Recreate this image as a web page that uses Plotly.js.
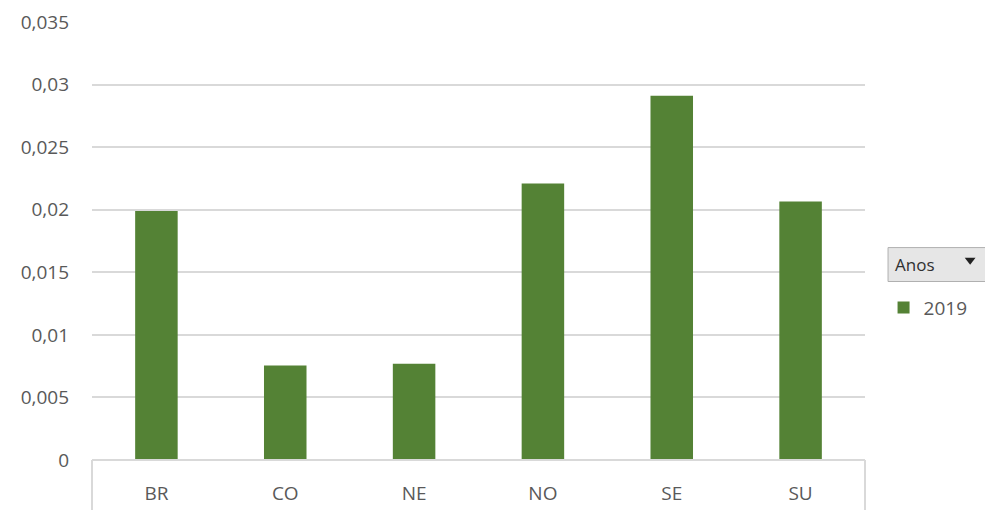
<!DOCTYPE html>
<html>
<head>
<meta charset="utf-8">
<script src="https://cdn.plot.ly/plotly-3.0.1.min.js"></script>
<style>html,body{margin:0;padding:0;background:#fff;}#chart{width:985px;height:510px;}</style>
</head>
<body>
<div id="chart"></div>
<script>
const categories = ["BR", "CO", "NE", "NO", "SE", "SU"];
const values2019 = [0.0199, 0.00755, 0.0077, 0.0221, 0.0291, 0.02065];
const seriesName = "2019";
const filterLabel = "Anos";
const yTicks = [0, 0.005, 0.01, 0.015, 0.02, 0.025, 0.03, 0.035];
const yTickText = ["0", "0,005", "0,01", "0,015", "0,02", "0,025", "0,03", "0,035"];

const fontFam = "'Open Sans', 'DejaVu Sans', sans-serif";
const grid = "#d9d9d9";
const txt = "#595959";

const trace = {
  type: "bar",
  x: categories,
  y: values2019,
  name: seriesName,
  marker: {color: "#548235", line: {width: 0}},
  showlegend: true
};

const layout = {
  width: 985, height: 510,
  margin: {l: 92, r: 120, t: 22, b: 50, pad: 0},
  paper_bgcolor: "#ffffff",
  plot_bgcolor: "#ffffff",
  bargap: 0.67,
  font: {family: fontFam, color: txt, size: 19},
  xaxis: {
    showgrid: false, zeroline: false, showline: false,
    ticks: "", tickfont: {size: 19, color: txt, family: fontFam},
    ticklabelstandoff: 20, fixedrange: true
  },
  yaxis: {
    range: [0, 0.035],
    tickvals: yTicks, ticktext: yTickText,
    showgrid: true, gridcolor: grid, gridwidth: 2,
    zeroline: false, showline: false, ticks: "",
    tickfont: {size: 19, color: txt, family: fontFam},
    ticklabelstandoff: 22, fixedrange: true
  },
  showlegend: true,
  legend: {
    x: 1.024, xanchor: "left", xref: "paper",
    y: 0.348, yanchor: "middle",
    font: {size: 19, color: txt, family: fontFam},
    itemwidth: 30, bgcolor: "rgba(0,0,0,0)"
  },
  shapes: [
    {type: "line", xref: "paper", yref: "paper", x0: 0, x1: 1, y0: 0, y1: 0, line: {color: grid, width: 2}},
    {type: "line", xref: "paper", yref: "paper", x0: 0, x1: 0, y0: 0, y1: -0.2, line: {color: grid, width: 2}},
    {type: "line", xref: "paper", yref: "paper", x0: 1, x1: 1, y0: 0, y1: -0.2, line: {color: grid, width: 2}},
    {type: "rect", xref: "paper", yref: "paper", x0: 1.0298, x1: 1.16, y0: 0.485, y1: 0.4075,
     fillcolor: "#e6e6e6", line: {color: "#b0b0b0", width: 1}},
    {type: "path", xref: "paper", yref: "paper",
     path: "M 1.129 0.462 L 1.143 0.462 L 1.136 0.446 Z",
     fillcolor: "#222222", line: {width: 0}}
  ],
  annotations: [
    {xref: "paper", yref: "paper", x: 1.036, y: 0.447, xanchor: "left", yanchor: "middle",
     text: filterLabel, showarrow: false, font: {size: 17, color: "#303030", family: fontFam}}
  ]
};

Plotly.newPlot("chart", [trace], layout, {displayModeBar: false, staticPlot: true});
</script>
</body>
</html>
